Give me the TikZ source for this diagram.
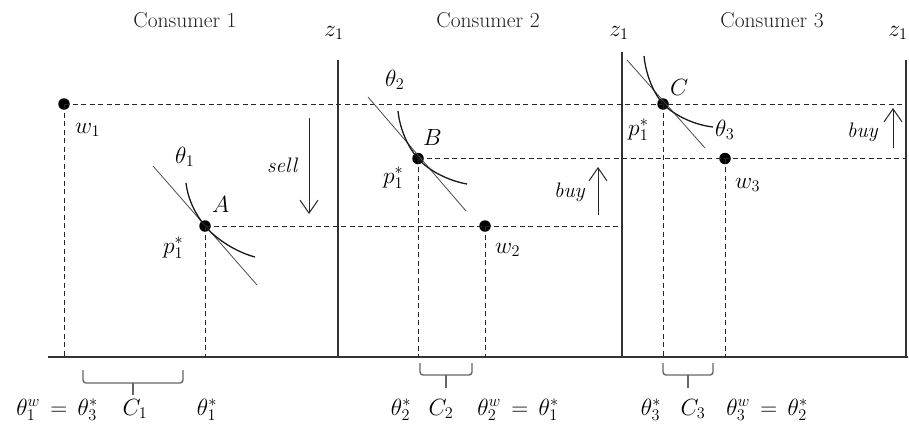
\documentclass[tikz,border=0pt]{standalone}
\usetikzlibrary{arrows.meta}
\tikzset{
 frame/.style={line width=1.2pt, draw=black!80},
 guide/.style={draw=black!85, line width=0.9pt, dash pattern=on 5pt off 3.5pt},
 dot/.style={circle, fill=black, draw=none, inner sep=0pt, minimum size=11.5pt},
 tangent/.style={draw=black!70, line width=0.8pt},
 icurve/.style={draw=black!90, line width=1.3pt},
 mlbl/.style={font=\fontsize{20.74}{24}\selectfont, scale=1.13, inner sep=0pt, anchor=base},
 ttl/.style={font=\fontsize{21.5}{24}\selectfont, inner sep=0pt, anchor=base, text=black!88},
 flowtxt/.style={font=\fontsize{21}{24}\selectfont\itshape, inner sep=0pt, anchor=base},
 flow/.style={draw=black!85, line width=1pt, -{Straight Barb[length=13pt,width=18pt]}},
 cbrace/.style={draw=black!60, line width=1.4pt, rounded corners=3pt},
}
\begin{document}
\begin{tikzpicture}[x=1pt,y=-1pt]
\useasboundingbox (0,0) rectangle (909,426);
% frame
\coordinate (o) at (48,357);
\coordinate (e) at (908,357);
\coordinate (v1t) at (338,60); \coordinate (v1b) at (338,357);
\coordinate (v2t) at (622,52); \coordinate (v2b) at (622,357);
\coordinate (v3t) at (906,60); \coordinate (v3b) at (906,357);
\draw[frame] (o) -- (e);
\draw[frame] (v1t) -- (v1b);
\draw[frame] (v2t) -- (v2b);
\draw[frame] (v3t) -- (v3b);
% dots
\node[dot] (w1) at (64,104) {};
\node[dot] (A) at (205,226) {};
\node[dot] (B) at (418,158.5) {};
\node[dot] (w2) at (485,226) {};
\node[dot] (C) at (663,104) {};
\node[dot] (w3) at (725,158.5) {};
% dashed guides
\draw[guide] (w1.center) -- (w1.center |- o);
\draw[guide] (w1.center) -- (w1.center -| v3t);
\draw[guide] (A.center) -- (A.center |- o);
\draw[guide] (A.center) -- (A.center -| v2t);
\draw[guide] (B.center) -- (B.center |- o);
\draw[guide] (B.center) -- (B.center -| v3t);
\draw[guide] (w2.center) -- (w2.center |- o);
\draw[guide] (C.center) -- (C.center |- o);
\draw[guide] (w3.center) -- (w3.center |- o);
% tangents and indifference curves
\draw[tangent] (153,166) -- (257,285);
\draw[icurve] (186,183) .. controls (188,200) and (196,215) .. (A.center) .. controls (216,239) and (236,252) .. (255,257);
\draw[tangent] (368,97) -- (466,211);
\draw[icurve] (398,111) .. controls (400,130) and (408,147) .. (B.center) .. controls (430,172) and (450,181) .. (467,184);
\draw[tangent] (627,60) -- (705,148);
\draw[icurve] (644,56) .. controls (646,75) and (653,92) .. (C.center) .. controls (675,116) and (695,125) .. (713,127);
% arrows
\coordinate (s0) at (309,118); \coordinate (s1) at (309,214);
\draw[flow] (s0) -- (s1);
\coordinate (b0) at (598,215); \coordinate (b1) at (598,167);
\draw[flow] (b0) -- (b1);
\coordinate (c0) at (893,148); \coordinate (c1) at (893,108);
\draw[flow] (c0) -- (c1);
% titles
\node[ttl] (t1) at (185,27) {Consumer 1};
\node[ttl] (t2) at (488,27) {Consumer 2};
\node[ttl] (t3) at (772,27) {Consumer 3};
\node[mlbl] (z1a) at (334,36) {$z_1$};
\node[mlbl] (z1b) at (619,36) {$z_1$};
\node[mlbl] (z1c) at (898,36) {$z_1$};
% panel 1 labels
\node[mlbl, anchor=base west] (lw1) at (75,133) {$w_1$};
\node[mlbl, anchor=base west] (lth1) at (175,163) {$\theta_1$};
\node[mlbl, anchor=base west] (lA) at (212,212) {$A$};
\node[mlbl, anchor=base west] (lp1) at (163,253) {$p_1^*$};
\node[flowtxt, anchor=base west] (lsell) at (267,172) {sell};
% panel 2 labels
\node[mlbl, anchor=base west] (lth2) at (385,86) {$\theta_2$};
\node[mlbl, anchor=base west] (lB) at (423,145) {$B$};
\node[mlbl, anchor=base west] (lp2) at (383,183) {$p_1^*$};
\node[flowtxt, anchor=base west] (lbuy2) at (554,197) {buy};
\node[mlbl, anchor=base west] (lw2) at (495,253) {$w_2$};
% panel 3 labels
\node[mlbl, anchor=base west] (lC) at (670,95) {$C$};
\node[mlbl, anchor=base west] (lth3) at (715,136) {$\theta_3$};
\node[mlbl, anchor=base west] (lp3) at (628,135) {$p_1^*$};
\node[mlbl, anchor=base west] (lw3) at (735,188) {$w_3$};
\node[flowtxt, anchor=base west] (lbuy3) at (847,137) {buy};
% braces
\draw[cbrace] (83,370) -- (83,383) -- (183,383) -- (183,370);
\draw[cbrace] (133,383) -- (133,395);
\draw[cbrace] (420,363) -- (420,375) -- (472,375) -- (472,363);
\draw[cbrace] (446,375) -- (446,388);
\draw[cbrace] (663,363) -- (663,375) -- (713,375) -- (713,363);
\draw[cbrace] (688,375) -- (688,388);
% bottom labels
\node[mlbl] (q1) at (57,415) {$\theta_1^w \,=\, \theta_3^*$};
\node[mlbl] (q2) at (135,415) {$C_1$};
\node[mlbl] (q3) at (207,415) {$\theta_1^*$};
\node[mlbl] (q4) at (401,415) {$\theta_2^*$};
\node[mlbl] (q5) at (441,415) {$C_2$};
\node[mlbl] (q6) at (518,415) {$\theta_2^w \,=\, \theta_1^*$};
\node[mlbl] (q7) at (651,415) {$\theta_3^*$};
\node[mlbl] (q8) at (693,415) {$C_3$};
\node[mlbl] (q9) at (767,415) {$\theta_3^w \,=\, \theta_2^*$};
\end{tikzpicture}
\end{document}
